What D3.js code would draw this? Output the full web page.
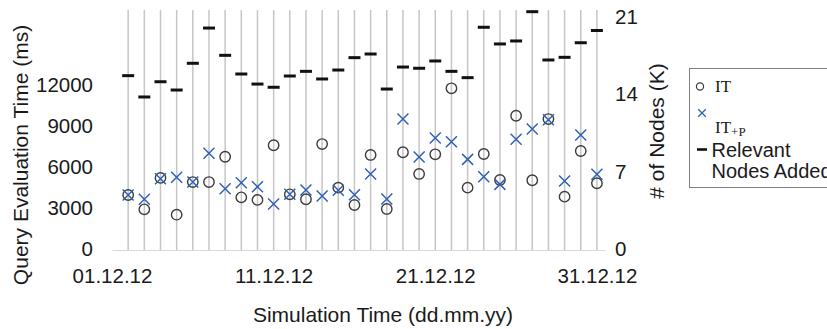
<!DOCTYPE html>
<html>
<head>
<meta charset="utf-8">
<script src="https://cdn.jsdelivr.net/npm/d3@7/dist/d3.min.js"></script>
<style>
  html, body { margin: 0; padding: 0; background: #ffffff; }
  svg { display: block; }
  text { font-family: "Liberation Sans", Arial, sans-serif; fill: #1a1a1a; }
</style>
</head>
<body>
<svg id="chart" width="827" height="329"></svg>
<script>
// Simulation days (dd.mm.yy)
const dates = [
  "02.12.12","03.12.12","04.12.12","05.12.12","06.12.12","07.12.12","08.12.12","09.12.12","10.12.12","11.12.12",
  "12.12.12","13.12.12","14.12.12","15.12.12","16.12.12","17.12.12","18.12.12","19.12.12","20.12.12","21.12.12",
  "22.12.12","23.12.12","24.12.12","25.12.12","26.12.12","27.12.12","28.12.12","29.12.12","30.12.12","31.12.12"
];

// Query evaluation time, IT (ms)
const itTimes = [
  3950, 2900, 5200, 2510, 4900, 4900, 6750, 3780, 3590, 7590,
  4000, 3640, 7680, 4490, 3220, 6880, 2930, 7080, 5490, 6930,
  11760, 4490, 6950, 5050, 9750, 5030, 9510, 3830, 7170, 4810
];

// Query evaluation time, IT+P (ms)
const itpTimes = [
  3950, 3640, 5140, 5250, 4900, 7000, 4410, 4850, 4560, 3290,
  4000, 4320, 3880, 4300, 3970, 5490, 3660, 9510, 6730, 8120,
  7850, 6560, 5290, 4730, 8030, 8780, 9460, 4980, 8340, 5470
];

// Relevant nodes added (thousands)
const nodesAdded = [
  15.69, 13.76, 15.14, 14.39, 16.81, 20.00, 17.53, 15.84, 14.93, 14.64,
  15.66, 16.08, 15.39, 16.20, 17.32, 17.65, 14.48, 16.47, 16.36, 17.02,
  16.08, 15.51, 20.07, 18.56, 18.83, 21.48, 17.11, 17.35, 18.67, 19.78
];

const xTickLabels = ["01.12.12", "11.12.12", "21.12.12", "31.12.12"];
const leftTicks = [0, 3000, 6000, 9000, 12000];
const rightTicks = [0, 7, 14, 21];

const legendItems = ["IT", "IT+P", "Relevant Nodes Added"];

const parse = d3.timeParse("%d.%m.%y");
const fmt = d3.timeFormat("%d.%m.%y");

const svg = d3.select("#chart");

const x = d3.scaleTime()
  .domain([parse(xTickLabels[0]), d3.timeHour.offset(parse(xTickLabels[3]), 12)])
  .range([112, 605]);

const yLeft = d3.scaleLinear().domain([0, 12000]).range([249, 85]);
const yRight = d3.scaleLinear().domain([0, 21]).range([249, 17]);

const plotTop = 10;
const plotBottom = 250;

// vertical day lines
svg.append("g")
  .selectAll("line")
  .data(dates)
  .join("line")
  .attr("x1", d => x(parse(d)))
  .attr("x2", d => x(parse(d)))
  .attr("y1", plotTop)
  .attr("y2", plotBottom)
  .attr("stroke", "#c6c6c6")
  .attr("stroke-width", 1.5);

// bottom axis
const xAxis = svg.append("g")
  .attr("transform", `translate(0,${plotBottom})`)
  .call(d3.axisBottom(x)
    .tickValues(xTickLabels.map(parse))
    .tickFormat(fmt)
    .tickSize(0)
    .tickSizeOuter(0)
    .tickPadding(18));
xAxis.select(".domain").attr("stroke", "#d9d9d9").attr("stroke-width", 1.2);
xAxis.selectAll("text")
  .style("font-family", '"Liberation Sans", Arial, sans-serif')
  .style("font-size", "20.5px")
  .attr("fill", "#1a1a1a");

// left axis
const yAxisL = svg.append("g")
  .attr("transform", "translate(112,0)")
  .call(d3.axisLeft(yLeft).tickValues(leftTicks).tickFormat(d3.format("d")).tickSize(0).tickPadding(19));
yAxisL.select(".domain").remove();
yAxisL.selectAll("text")
  .style("font-family", '"Liberation Sans", Arial, sans-serif')
  .style("font-size", "20.5px")
  .attr("fill", "#1a1a1a");

// right axis
const yAxisR = svg.append("g")
  .attr("transform", "translate(605,0)")
  .call(d3.axisRight(yRight).tickValues(rightTicks).tickFormat(d3.format("d")).tickSize(0).tickPadding(10));
yAxisR.select(".domain").remove();
yAxisR.selectAll("text")
  .style("font-family", '"Liberation Sans", Arial, sans-serif')
  .style("font-size", "20.5px")
  .attr("fill", "#1a1a1a");

// axis titles
svg.append("text")
  .attr("transform", "translate(28,155) rotate(-90)")
  .attr("text-anchor", "middle")
  .style("font-size", "21px")
  .text("Query Evaluation Time (ms)");

svg.append("text")
  .attr("transform", "translate(664,131) rotate(-90)")
  .attr("text-anchor", "middle")
  .style("font-size", "21px")
  .text("# of Nodes (K)");

svg.append("text")
  .attr("x", 383)
  .attr("y", 322)
  .attr("text-anchor", "middle")
  .style("font-size", "21px")
  .text("Simulation Time (dd.mm.yy)");

const blue = "#3261b2";
const grey = "#3c3c3c";

// relevant nodes added (dashes, right axis)
svg.append("g")
  .selectAll("line")
  .data(dates)
  .join("line")
  .attr("x1", d => x(parse(d)) - 6)
  .attr("x2", d => x(parse(d)) + 6)
  .attr("y1", (d, i) => yRight(nodesAdded[i]))
  .attr("y2", (d, i) => yRight(nodesAdded[i]))
  .attr("stroke", "#111")
  .attr("stroke-width", 3);

// IT (open circles)
svg.append("g")
  .selectAll("circle")
  .data(dates)
  .join("circle")
  .attr("cx", d => x(parse(d)))
  .attr("cy", (d, i) => yLeft(itTimes[i]))
  .attr("r", 5.2)
  .attr("fill", "none")
  .attr("stroke", grey)
  .attr("stroke-width", 1.4);

// IT+P (crosses)
const cross = s => `M${-s},${-s}L${s},${s}M${-s},${s}L${s},${-s}`;
svg.append("g")
  .selectAll("path")
  .data(dates)
  .join("path")
  .attr("transform", (d, i) => `translate(${x(parse(d))},${yLeft(itpTimes[i])})`)
  .attr("d", cross(5.5))
  .attr("fill", "none")
  .attr("stroke", blue)
  .attr("stroke-width", 1.5);

// legend
const lg = svg.append("g");
lg.append("rect")
  .attr("x", 689.5).attr("y", 68.5)
  .attr("width", 160).attr("height", 119)
  .attr("fill", "#fff")
  .attr("stroke", "#808080")
  .attr("stroke-width", 1);

lg.append("circle")
  .attr("cx", 700).attr("cy", 86.5).attr("r", 3.6)
  .attr("fill", "none").attr("stroke", grey).attr("stroke-width", 1.2);
lg.append("text")
  .attr("x", 715).attr("y", 92)
  .style("font-family", '"Liberation Serif", "Times New Roman", serif')
  .style("font-size", "17px")
  .text(legendItems[0]);

lg.append("path")
  .attr("transform", "translate(702,113)")
  .attr("d", cross(3.8))
  .attr("fill", "none").attr("stroke", blue).attr("stroke-width", 1.3);
const itp = lg.append("text")
  .attr("x", 715).attr("y", 133)
  .style("font-family", '"Liberation Serif", "Times New Roman", serif')
  .style("font-size", "17px");
itp.append("tspan").text(legendItems[1].slice(0, 2));
itp.append("tspan").attr("dy", 3).style("font-size", "13px").text(legendItems[1].slice(2));

lg.append("line")
  .attr("x1", 697).attr("x2", 707)
  .attr("y1", 149.5).attr("y2", 149.5)
  .attr("stroke", "#111").attr("stroke-width", 2.6);
const words = legendItems[2].split(" ");
lg.append("text")
  .attr("x", 711.5).attr("y", 156.5)
  .style("font-size", "20px")
  .text(words[0]);
lg.append("text")
  .attr("x", 711.5).attr("y", 178.3)
  .style("font-size", "20px")
  .text(words.slice(1).join(" "));
</script>
</body>
</html>
